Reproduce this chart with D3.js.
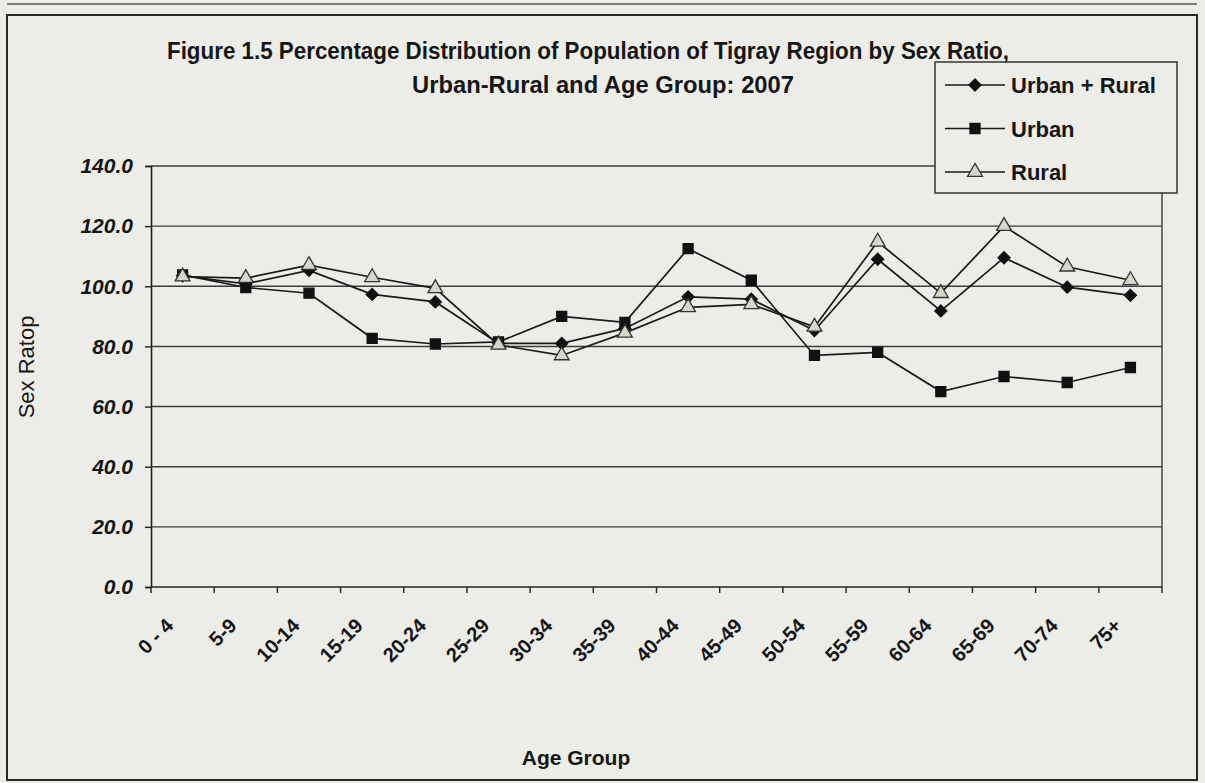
<!DOCTYPE html>
<html>
<head>
<meta charset="utf-8">
<script src="https://cdn.jsdelivr.net/npm/d3@7"></script>
<style>
  html, body { margin: 0; padding: 0; background: #ecece8; }
  svg { display: block; }
  text { font-family: "Liberation Sans", Arial, sans-serif; fill: #161616; }
</style>
</head>
<body>
<svg id="chart" width="1205" height="783"></svg>
<script>
const ageGroups = ["0 - 4","5-9","10-14","15-19","20-24","25-29","30-34","35-39","40-44","45-49","50-54","55-59","60-64","65-69","70-74","75+"];
const urbanRural = [103.5,100.8,105.3,97.3,94.8,81.0,81.0,86.0,96.5,95.7,85.3,109.0,91.8,109.5,99.7,97.0];
const urban      = [103.8,99.6,97.7,82.7,80.8,81.5,90.0,88.0,112.5,102.0,77.0,78.0,65.0,70.0,68.0,73.0];
const rural      = [103.2,102.7,107.0,103.0,99.3,80.5,77.0,84.5,93.0,94.0,86.5,114.8,97.7,120.0,106.5,102.0];
const yTicks = [0,20,40,60,80,100,120,140];
const seriesNames = ["Urban + Rural","Urban","Rural"];
const titleLines = ["Figure 1.5 Percentage Distribution of Population of Tigray Region by Sex Ratio,","Urban-Rural and Age Group: 2007"];
const xTitle = "Age Group";
const yTitle = "Sex Ratop";

const series = [
  {name: seriesNames[0], values: urbanRural, marker: "diamond"},
  {name: seriesNames[1], values: urban, marker: "square"},
  {name: seriesNames[2], values: rural, marker: "triangle"}
];

const svg = d3.select("#chart");
const W = 1205, H = 783;
const plot = {left: 151, right: 1162, top: 166, bottom: 587};

svg.append("rect").attr("width", W).attr("height", H).attr("fill", "#ecece8");
svg.append("line").attr("x1", 7).attr("x2", 1197).attr("y1", 4).attr("y2", 4)
  .attr("stroke", "#555").attr("stroke-width", 1.5);
svg.append("rect").attr("x", 7).attr("y", 15).attr("width", 1190).attr("height", 765)
  .attr("fill", "none").attr("stroke", "#2a2a2a").attr("stroke-width", 2);

const x = d3.scaleBand().domain(ageGroups).range([plot.left, plot.right]).padding(0);
const y = d3.scaleLinear().domain([0, 140]).range([plot.bottom, plot.top]);
const cx = d => x(d) + x.bandwidth() / 2;

svg.append("g").selectAll("line").data(yTicks.filter(t => t > 0)).join("line")
  .attr("x1", plot.left).attr("x2", plot.right)
  .attr("y1", d => y(d)).attr("y2", d => y(d))
  .attr("stroke", "#3c3c3c").attr("stroke-width", 1.4);

svg.append("line").attr("x1", plot.right).attr("x2", plot.right)
  .attr("y1", plot.top).attr("y2", plot.bottom)
  .attr("stroke", "#3c3c3c").attr("stroke-width", 1.4);

const yAxis = svg.append("g").attr("transform", `translate(${plot.left},0)`)
  .call(d3.axisLeft(y).tickValues(yTicks).tickSize(6).tickPadding(12).tickFormat(d3.format(".1f")));
yAxis.select(".domain").attr("stroke", "#222").attr("stroke-width", 1.6);
yAxis.selectAll(".tick line").attr("stroke", "#222").attr("stroke-width", 1.4);
yAxis.selectAll(".tick text")
  .style("font-family", "'Liberation Sans', Arial, sans-serif")
  .style("font-size", "21px").style("font-weight", "bold").style("font-style", "italic")
  .attr("fill", "#161616");

const xAxisG = svg.append("g").attr("transform", `translate(0,${plot.bottom})`);
xAxisG.append("line").attr("x1", plot.left).attr("x2", plot.right).attr("y1", 0).attr("y2", 0)
  .attr("stroke", "#222").attr("stroke-width", 1.6);
const boundaries = ageGroups.map(d => x(d)).concat([plot.right]);
xAxisG.selectAll("line.tk").data(boundaries).join("line").attr("class", "tk")
  .attr("x1", d => d).attr("x2", d => d).attr("y1", 0).attr("y2", 6)
  .attr("stroke", "#222").attr("stroke-width", 1.4);
xAxisG.selectAll("text").data(ageGroups).join("text")
  .attr("transform", d => `translate(${cx(d) - 8},${40}) rotate(-45)`)
  .attr("text-anchor", "end")
  .style("font-size", "20px").style("font-weight", "bold")
  .text(d => d);

const line = d3.line().x((v, i) => cx(ageGroups[i])).y(v => y(v));
const sym = {
  diamond: d3.symbol().type(d3.symbolSquare).size(72),
  square: d3.symbol().type(d3.symbolSquare).size(100),
  triangle: d3.symbol().type(d3.symbolTriangle).size(95)
};
const rot = {diamond: 45, square: 0, triangle: 0};
const markerStyle = {
  diamond: {fill: "#111", stroke: "#111"},
  square: {fill: "#111", stroke: "#111"},
  triangle: {fill: "#d6d6ca", stroke: "#333"}
};
series.forEach(s => {
  svg.append("path").datum(s.values).attr("d", line)
    .attr("fill", "none").attr("stroke", "#1a1a1a").attr("stroke-width", 1.7);
});
series.forEach(s => {
  svg.append("g").selectAll("path").data(s.values).join("path")
    .attr("transform", (v, i) => `translate(${cx(ageGroups[i])},${y(v)}) rotate(${rot[s.marker]})`)
    .attr("d", sym[s.marker])
    .attr("fill", markerStyle[s.marker].fill)
    .attr("stroke", markerStyle[s.marker].stroke).attr("stroke-width", 1.3);
});

svg.append("text").attr("x", 588).attr("y", 59).attr("text-anchor", "middle")
  .attr("textLength", 842).attr("lengthAdjust", "spacingAndGlyphs")
  .style("font-family", "'Liberation Sans Narrow', 'Liberation Sans', Arial, sans-serif")
  .style("font-size", "23px").style("font-weight", "bold").text(titleLines[0]);
svg.append("text").attr("x", 603).attr("y", 93).attr("text-anchor", "middle")
  .attr("textLength", 382).attr("lengthAdjust", "spacingAndGlyphs")
  .style("font-family", "'Liberation Sans Narrow', 'Liberation Sans', Arial, sans-serif")
  .style("font-size", "23px").style("font-weight", "bold").text(titleLines[1]);

svg.append("text").attr("x", 576).attr("y", 765).attr("text-anchor", "middle")
  .style("font-size", "21px").style("font-weight", "bold").text(xTitle);
svg.append("text").attr("transform", "translate(34,367) rotate(-90)").attr("text-anchor", "middle")
  .style("font-size", "22px").text(yTitle);

const lg = svg.append("g");
lg.append("rect").attr("x", 935).attr("y", 62).attr("width", 242).attr("height", 131)
  .attr("fill", "#ecece8").attr("stroke", "#333").attr("stroke-width", 1.5);
const ly = d3.scalePoint().domain(seriesNames).range([85, 172]);
series.forEach(s => {
  const yy = ly(s.name);
  lg.append("line").attr("x1", 945).attr("x2", 1005).attr("y1", yy).attr("y2", yy)
    .attr("stroke", "#1a1a1a").attr("stroke-width", 1.7);
  lg.append("path").attr("transform", `translate(975,${yy}) rotate(${rot[s.marker]})`).attr("d", sym[s.marker])
    .attr("fill", markerStyle[s.marker].fill).attr("stroke", markerStyle[s.marker].stroke).attr("stroke-width", 1.3);
  lg.append("text").attr("x", 1011).attr("y", yy + 8)
    .style("font-size", "22px").style("font-weight", "bold").text(s.name);
});
</script>
</body>
</html>
